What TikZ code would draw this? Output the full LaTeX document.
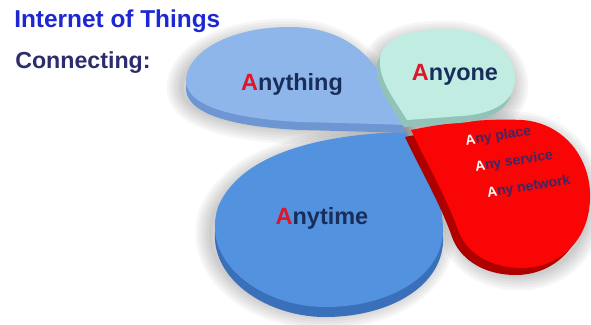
\documentclass[tikz,border=0pt]{standalone}
\usepackage{fontspec}
\setmainfont{Liberation Sans}
\usepackage{xcolor}

\definecolor{iotblue}{RGB}{30,40,210}
\definecolor{connnavy}{RGB}{45,45,110}
\definecolor{wordnavy}{RGB}{25,45,90}
\definecolor{anyred}{RGB}{225,20,40}
\definecolor{redtext}{RGB}{60,40,100}
\definecolor{thingtop}{RGB}{142,182,234}
\definecolor{thingside}{RGB}{110,150,210}
\definecolor{onetop}{RGB}{192,236,226}
\definecolor{oneside}{RGB}{145,195,185}
\definecolor{placetop}{RGB}{250,5,5}
\definecolor{placeside}{RGB}{175,0,0}
\definecolor{timetop}{RGB}{82,146,222}
\definecolor{timeside}{RGB}{58,112,186}

% petal outlines, in pixels of the picture
\newcommand{\thingpath}{(405,125) .. controls (387,72) and (358,27) .. (290,27) .. controls (225,27) and (185,55) .. (186,82) .. controls (188,108) and (240,119) .. (300,122) .. controls (340,123) and (380,124) .. (405,125) -- cycle}
\newcommand{\onepath}{(407,120) .. controls (395,100) and (378,80) .. (380,58) .. controls (383,36) and (415,29) .. (447,29) .. controls (487,29) and (516,52) .. (515,80) .. controls (514,104) and (490,114) .. (462,116) -- cycle}
\newcommand{\placepath}{(411,130) .. controls (440,124) and (482,118) .. (522,120) .. controls (565,123) and (592,160) .. (590,200) .. controls (588,245) and (555,268) .. (522,268) .. controls (487,268) and (465,250) .. (458,230) .. controls (447,198) and (425,160) .. (411,130) -- cycle}
\newcommand{\timepath}{(405,132) .. controls (330,134) and (242,150) .. (218,207) .. controls (200,262) and (262,307) .. (325,307) .. controls (392,307) and (445,274) .. (443,227) .. controls (441,187) and (422,158) .. (405,132) -- cycle}

\tikzset{
  haze/.style={black, opacity=0.035, line join=round},
  word/.style={font=\bfseries\fontsize{17.6}{20}\selectfont, text=wordnavy, inner sep=0pt},
  anylines/.style={font=\bfseries\fontsize{10.5}{20.5}\selectfont, text=redtext, rotate=9, align=left, inner sep=0pt}
}

\begin{document}
\begin{tikzpicture}[x=0.75pt,y=-0.75pt]
\useasboundingbox (0,0) rectangle (591,324);

% soft shadow under the petals
\foreach \w in {3,7,11,15,19,23}
{
	\draw[haze, line width=\w pt, shift={(-4,7)}] \thingpath;
	\draw[haze, line width=\w pt, shift={(-4,7)}] \timepath;
	\draw[haze, line width=\w pt, shift={(-2,7)}] \onepath;
	\draw[haze, line width=\w pt, shift={(-2,7)}] \placepath;
}

\fill[timeside,shift={(0,10)}] \timepath;
\fill[timetop] \timepath;
\fill[placeside,shift={(-6,7)}] \placepath;
\fill[placetop] \placepath;
\fill[thingside,shift={(0,8)}] \thingpath;
\fill[thingtop] \thingpath;
\fill[oneside,shift={(-3,7)}] \onepath;
\fill[onetop] \onepath;

\node[anchor=west, font=\bfseries\fontsize{18.3}{21}\selectfont, text=iotblue, inner sep=0pt] (title) at (14,21) {Internet of Things};
\node[anchor=west, font=\bfseries\fontsize{17.4}{20}\selectfont, text=connnavy, inner sep=0pt] (connecting) at (15,63) {Connecting:};

\node[word] (anything) at (292,84) {\textcolor{anyred}{A}nything};
\node[word] (anyone) at (455,75) {\textcolor{anyred}{A}nyone};
\node[word] (anytime) at (322,218) {\textcolor{anyred}{A}nytime};

% the three lines on the red petal
\node[anylines] (anywhere) at (518,161) {\textcolor{white}{A}ny place\\
	\hspace{4pt}\textcolor{white}{A}ny service\\
	\hspace{10pt}\textcolor{white}{A}ny network};

\end{tikzpicture}
\end{document}
